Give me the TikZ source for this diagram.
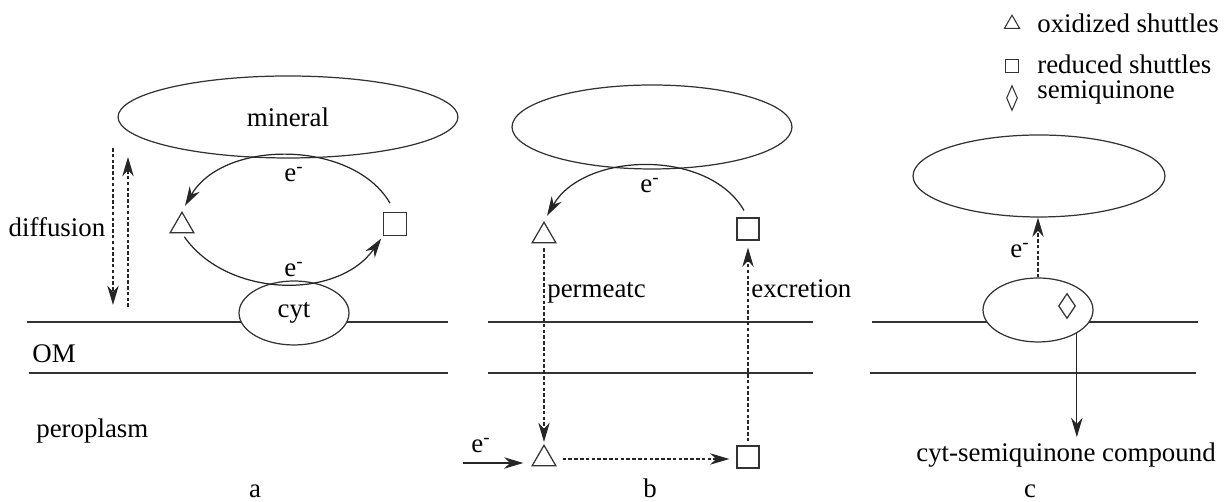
\documentclass[tikz,border=0pt]{standalone}
\usepackage{fontspec}
\setmainfont{Liberation Serif}
\usepackage{tikz}
\usetikzlibrary{shapes,arrows.meta,positioning}

\begin{document}
\begin{tikzpicture}
  [
    x=0.02cm, y=0.02cm,
    font=\fontsize{15.3}{18}\selectfont,
    >={Stealth[length=11pt,width=6.5pt,inset=3.5pt]},
    Oxid/.style={regular polygon, regular polygon sides=3, draw=black!80, line width=0.7pt, inner sep=0pt, minimum size=0.55cm},
    Reduced/.style={rectangle, draw=black!80, line width=0.7pt, inner sep=0pt, minimum size=0.46cm},
    Semi/.style={diamond, draw=black!80, line width=0.7pt, inner sep=0pt, minimum width=0.34cm, minimum height=0.5cm},
    Blob/.style={ellipse, draw=black!80, fill=white, line width=0.7pt, inner sep=0pt},
    Lbl/.style={anchor=base, inner sep=0pt},
    Memb/.style={draw=black!80, line width=1pt},
    Flow/.style={draw=black!85, line width=0.7pt, dash pattern=on 2pt off 1.3pt},
    Elec/.style={draw=black!85, line width=0.7pt}
  ]
  \useasboundingbox (0, 0) rectangle (1224, 502);

  % Membranes
  \path [Memb] (27, 180) -- (448, 180);
  \path [Memb] (29, 129) -- (448, 129);
  \path [Memb] (488, 180) -- (813, 180);
  \path [Memb] (488, 129) -- (813, 129);
  \path [Memb] (872, 180) -- (1198, 180);
  \path [Memb] (870, 129) -- (1196, 129);

  % Nodes
  \node[Blob, minimum width=6.8cm, minimum height=1.64cm] (minA) at(288, 385) {mineral};
  \node[Blob, minimum width=2.2cm, minimum height=1.28cm] (cytA) at(294, 189) {cyt};
  \node[Oxid] (triA) at(182, 276) {};
  \node[Reduced] (sqA) at(395, 278) {};

  \node[Blob, minimum width=5.6cm, minimum height=1.68cm] (minB) at(652, 375) {};
  \node[Oxid] (triB) at(544, 266) {};
  \node[Reduced, minimum size=0.44cm] (sqB) at(748, 273) {};
  \node[Oxid] (triB2) at(544, 43) {};
  \node[Reduced, minimum size=0.44cm] (sqB2) at(748, 45) {};
  \coordinate (eIn) at(463, 39);

  \node[Blob, minimum width=5.04cm, minimum height=1.64cm] (minC) at(1039, 326) {};
  \node[Blob, minimum width=2.2cm, minimum height=1.28cm] (cytC) at(1038, 192) {};
  \node[Semi] (diaC) at(1067, 196) {};
  \node[anchor=base] (compound) at(1066, 40) {cyt-semiquinone compound};

  % Legend
  \node[Oxid, minimum size=0.35cm, line width=0.6pt] (triL) at(1012, 478) {};
  \node[Reduced, minimum size=0.26cm, line width=0.6pt] (sqL) at(1012, 436) {};
  \node[Semi, minimum width=0.22cm, minimum height=0.5cm, line width=0.6pt] (diaL) at(1012, 404) {};
  \node[Lbl, anchor=base west] (oxTxt) at(1037, 469) {oxidized shuttles};
  \node[Lbl, anchor=base west] (redTxt) at(1037, 428) {reduced shuttles};
  \node[Lbl, anchor=base west] (semTxt) at(1037, 403) {semiquinone};

  % Labels
  \node[Lbl] (diff) at(57, 265) {diffusion};
  \node[Lbl, anchor=base west] (om) at(32, 139) {OM};
  \node[Lbl, anchor=base west] (peri) at(36, 64) {peroplasm};
  \node[Lbl, anchor=base west] (perm) at(547, 204) {permeatc};
  \node[Lbl, anchor=base west] (excr) at(751, 204) {excretion};
  \node[Lbl] (eA1) at(294, 320) {e\textsuperscript{-}};
  \node[Lbl] (eA2) at(294, 225) {e\textsuperscript{-}};
  \node[Lbl] (eB1) at(650, 309) {e\textsuperscript{-}};
  \node[Lbl] (eB2) at(481, 49) {e\textsuperscript{-}};
  \node[Lbl] (eC) at(1020, 244) {e\textsuperscript{-}};
  \node[Lbl] (capA) at(255, 4) {a};
  \node[Lbl] (capB) at(650, 4) {b};
  \node[Lbl] (capC) at(1030, 4) {c};

  % Lines
  \coordinate (dnTop) at(113, 354);
  \coordinate (dnBot) at(113, 197);
  \coordinate (upBot) at(128, 195);
  \coordinate (upTop) at(128, 345);
  \path [->, Flow] (dnTop) -- (dnBot);
  \path [->, Flow] (upBot) -- (upTop);

  \path [->, Elec, shorten <=0.2cm, shorten >=0.12cm] (sqA.north) to[out=120,in=60] (triA.north);
  \path [->, Elec, shorten <=0.08cm, shorten >=0.06cm] (triA.south) to[out=-55,in=-125] (sqA.south west);

  \path [->, Elec, shorten <=0.16cm, shorten >=0.12cm] (sqB.north) to[out=120,in=60] (triB.north);
  \path [->, Flow, shorten <=0.1cm, shorten >=0.04cm] (triB.south) -- (triB2.north);
  \path [->, Flow, shorten <=0.08cm, shorten >=0.14cm] (sqB2.north) -- (sqB.south);
  \path [->, Flow, shorten <=0.2cm, shorten >=0.14cm] (triB2) -- (triB2 -| sqB2.west);
  \path [->, Elec, shorten >=0.24cm] (eIn) -- (eIn -| triB2.west);

  \path [->, Flow] (cytC.north) -- (cytC.north |- minC.south);
  \path [->, Elec] (cytC.-31) -- (cytC.-31 |- compound.north);

\end{tikzpicture}
\end{document}
